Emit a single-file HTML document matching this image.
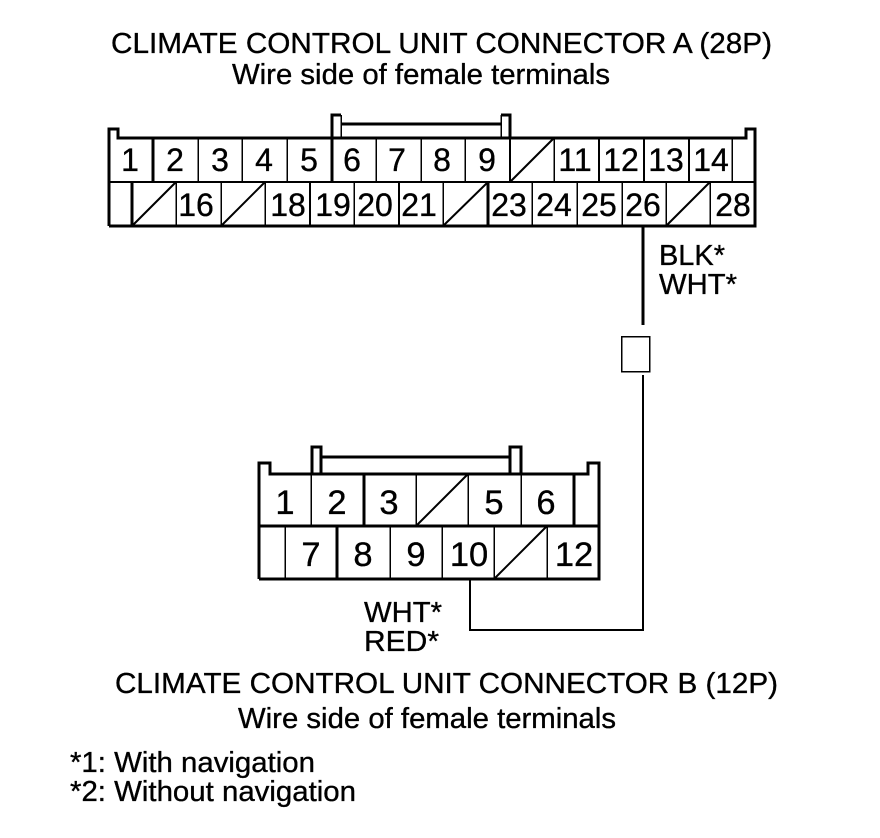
<!DOCTYPE html>
<html><head><meta charset="utf-8"><style>
html,body{margin:0;padding:0;background:#fff}
svg{display:block}
text{font-family:"Liberation Sans",Arial,sans-serif;fill:#000;stroke:#000;stroke-width:.35}
.t{font-size:28.5px}
.l{font-size:29px}
.a{font-size:32px;text-anchor:middle}
.b{font-size:34.5px;text-anchor:middle}
line,path,rect{shape-rendering:crispEdges;stroke:#000;fill:none}
.s{stroke-width:1.5}
.m{stroke-width:2}
.k{stroke-width:3}
.d{shape-rendering:auto;stroke-width:2}
</style></head><body>
<svg width="880" height="838" viewBox="0 0 880 838" xmlns="http://www.w3.org/2000/svg">
<rect x="0" y="0" width="880" height="838" style="fill:#fff;stroke:none"/>

<text class="t" x="111" y="53" textLength="661" lengthAdjust="spacingAndGlyphs">CLIMATE CONTROL UNIT CONNECTOR A (28P)</text>
<text class="t" x="232" y="84" textLength="378" lengthAdjust="spacingAndGlyphs">Wire side of female terminals</text>

<!-- Connector A -->
<path class="k" d="M109 226 V129 H118 V138 H331 M510 138 H746 V129 H755 V226 H109"/>
<path class="k" d="M331 138 H510"/>
<line class="m" x1="109" y1="182" x2="755" y2="182"/>
<path class="k" d="M332 138 V115 H341 M510 138 V115 H501"/>
<line class="k" x1="341" y1="124" x2="501" y2="124"/>
<line class="s" x1="341" y1="115" x2="341" y2="138"/>
<line class="s" x1="501" y1="115" x2="501" y2="138"/>
<g class="s">
<line class="k" x1="153" y1="138" x2="153" y2="182"/>
<line class="s" x1="198" y1="138" x2="198" y2="182"/>
<line class="s" x1="242" y1="138" x2="242" y2="182"/>
<line class="s" x1="287" y1="138" x2="287" y2="182"/>
<line class="k" x1="332" y1="138" x2="332" y2="182"/>
<line class="s" x1="376" y1="138" x2="376" y2="182"/>
<line class="s" x1="421" y1="138" x2="421" y2="182"/>
<line class="s" x1="465" y1="138" x2="465" y2="182"/>
<line class="m" x1="510" y1="138" x2="510" y2="182"/>
<line class="s" x1="554" y1="138" x2="554" y2="182"/>
<line class="m" x1="599" y1="138" x2="599" y2="182"/>
<line class="m" x1="644" y1="138" x2="644" y2="182"/>
<line class="m" x1="689" y1="138" x2="689" y2="182"/>
<line class="s" x1="732" y1="138" x2="732" y2="182"/>
<line class="k" x1="132" y1="182" x2="132" y2="226"/>
<line class="s" x1="176" y1="182" x2="176" y2="226"/>
<line class="s" x1="221" y1="182" x2="221" y2="226"/>
<line class="s" x1="265" y1="182" x2="265" y2="226"/>
<line class="m" x1="310" y1="182" x2="310" y2="226"/>
<line class="s" x1="354" y1="182" x2="354" y2="226"/>
<line class="m" x1="399" y1="182" x2="399" y2="226"/>
<line class="s" x1="443" y1="182" x2="443" y2="226"/>
<line class="k" x1="488" y1="182" x2="488" y2="226"/>
<line class="s" x1="532" y1="182" x2="532" y2="226"/>
<line class="s" x1="577" y1="182" x2="577" y2="226"/>
<line class="s" x1="622" y1="182" x2="622" y2="226"/>
<line class="s" x1="666" y1="182" x2="666" y2="226"/>
<line class="s" x1="710" y1="182" x2="710" y2="226"/>
</g>
<line class="d" x1="510" y1="182" x2="554" y2="138"/>
<line class="d" x1="132" y1="226" x2="176" y2="182"/>
<line class="d" x1="221" y1="226" x2="265" y2="182"/>
<line class="d" x1="443" y1="226" x2="488" y2="182"/>
<line class="d" x1="666" y1="226" x2="710" y2="182"/>

<text class="a" x="130" y="171">1</text><text class="a" x="175" y="171">2</text><text class="a" x="220" y="171">3</text><text class="a" x="264" y="171">4</text><text class="a" x="309" y="171">5</text><text class="a" x="352" y="171">6</text><text class="a" x="397" y="171">7</text><text class="a" x="442" y="171">8</text><text class="a" x="487" y="171">9</text><text class="a" x="575" y="171">11</text><text class="a" x="621" y="171">12</text><text class="a" x="666" y="171">13</text><text class="a" x="711" y="171">14</text>
<text class="a" x="196" y="216">16</text><text class="a" x="288" y="216">18</text><text class="a" x="333" y="216">19</text><text class="a" x="375" y="216">20</text><text class="a" x="419" y="216">21</text><text class="a" x="509" y="216">23</text><text class="a" x="554" y="216">24</text><text class="a" x="599" y="216">25</text><text class="a" x="643" y="216">26</text><text class="a" x="733" y="216">28</text>

<!-- Wire -->
<line class="k" x1="643" y1="226" x2="643" y2="325"/>
<rect class="s" x="621.5" y="336.5" width="28" height="35"/>
<line class="m" x1="643" y1="375" x2="643" y2="631"/>
<path class="m" d="M643 630 H470 V579"/>
<text class="l" x="659" y="265" textLength="66" lengthAdjust="spacingAndGlyphs">BLK*</text>
<text class="l" x="659" y="294" textLength="78" lengthAdjust="spacingAndGlyphs">WHT*</text>

<!-- Connector B -->
<path class="k" d="M259 579 V463 H270 V474 H311 M521 474 H588 V463 H599 V579 H259"/>
<path class="k" d="M311 474 H521"/>
<line class="k" x1="259" y1="526" x2="599" y2="526"/>
<path class="k" d="M312 474 V447 H321 V474 M510 474 V447 H521 V474"/>
<line class="k" x1="321" y1="457" x2="510" y2="457"/>
<line class="s" x1="311" y1="474" x2="311" y2="526"/>
<line class="k" x1="364" y1="474" x2="364" y2="526"/>
<line class="s" x1="416" y1="474" x2="416" y2="526"/>
<line class="s" x1="468" y1="474" x2="468" y2="526"/>
<line class="s" x1="521" y1="474" x2="521" y2="526"/>
<line class="k" x1="574" y1="474" x2="574" y2="526"/>
<line class="s" x1="285" y1="526" x2="285" y2="579"/>
<line class="k" x1="337" y1="526" x2="337" y2="579"/>
<line class="s" x1="390" y1="526" x2="390" y2="579"/>
<line class="s" x1="442" y1="526" x2="442" y2="579"/>
<line class="s" x1="494" y1="526" x2="494" y2="579"/>
<line class="s" x1="547" y1="526" x2="547" y2="579"/>
<line class="d" x1="416" y1="526" x2="468" y2="474"/>
<line class="d" x1="494" y1="579" x2="547" y2="526"/>

<text class="b" x="285" y="514">1</text><text class="b" x="337" y="514">2</text><text class="b" x="389" y="514">3</text><text class="b" x="494" y="514">5</text><text class="b" x="546" y="514">6</text>
<text class="b" x="311" y="566">7</text><text class="b" x="363" y="566">8</text><text class="b" x="416" y="566">9</text><text class="b" x="469" y="566">10</text><text class="b" x="574" y="566">12</text>

<text class="l" x="364" y="622" textLength="78" lengthAdjust="spacingAndGlyphs">WHT*</text>
<text class="l" x="364" y="651" textLength="75" lengthAdjust="spacingAndGlyphs">RED*</text>

<text class="t" x="115" y="693" textLength="663" lengthAdjust="spacingAndGlyphs">CLIMATE CONTROL UNIT CONNECTOR B (12P)</text>
<text class="t" x="238" y="728" textLength="378" lengthAdjust="spacingAndGlyphs">Wire side of female terminals</text>

<text class="t" x="70" y="772" textLength="245" lengthAdjust="spacingAndGlyphs">*1: With navigation</text>
<text class="t" x="70" y="801" textLength="286" lengthAdjust="spacingAndGlyphs">*2: Without navigation</text>
</svg>
</body></html>
